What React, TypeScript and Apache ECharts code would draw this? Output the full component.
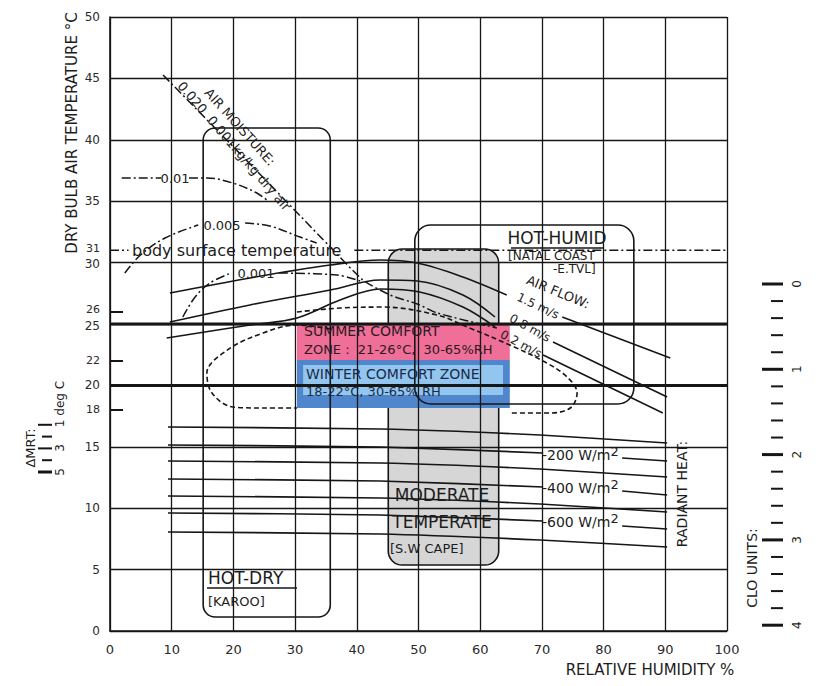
import React, { useEffect, useRef } from 'react';
import * as echarts from 'echarts';

// ---- axes ----
const extraTempLabels = [31, 26, 22, 18];
const extraTempTicks = [26, 22, 18];
const cloValues = [0, 0.2, 0.4, 0.6, 0.8, 1, 1.2, 1.4, 1.6, 1.8, 2, 2.2, 2.4, 2.6, 2.8, 3, 3.2, 3.4, 3.6, 3.8, 4];
const mrtValues = [1, 2, 3, 4, 5];

// ---- zones [rhFrom, rhTo, tFrom, tTo, radius] ----
const grayZone = [45.1, 63.0, 5.37, 31.11, 14];
const pinkZone = [30.3, 64.8, 22.07, 25.08, 0];
const blueZone = [30.3, 64.8, 18.16, 22.07, 0];
const blueInner = [31.3, 63.7, 19.22, 21.66, 0];
const hotDryZone = [15.1, 35.7, 1.14, 40.96, 12];
const hotHumidZone = [49.4, 84.9, 18.49, 33.06, 16];

// ---- air flow lines (RH %, T °C) ----
const flow15a = [[9.7, 27.52], [22.7, 28.75], [35.7, 29.8], [43.8, 30.21], [49.8, 29.97], [57.2, 28.83], [64.3, 27.36]];
const flow15b = [[73.3, 25.57], [90.8, 22.23]];
const flow08a = [[9.7, 25.16], [22.7, 26.55], [35.7, 27.77], [43.8, 28.58], [49.8, 28.5], [57.2, 27.36], [62.4, 25.57]];
const flow08b = [[71.8, 23.53], [90.3, 19.06]];
const flow02a = [[9.2, 23.86], [22.7, 24.92], [30.3, 25.49], [37.3, 26.95], [43.8, 27.85], [50.2, 27.61], [57.2, 26.38], [62.4, 24.76]];
const flow02b = [[70.2, 22.48], [89.6, 17.75]];

// ---- comfort extension (dashed) ----
const comfortLeft = [[35.7, 24.6], [30.3, 24.92], [24.8, 24.27], [19.0, 22.88], [15.7, 21.01], [16.5, 19.4], [19.9, 18.24], [25.0, 18.16], [30.3, 18.16]];
const comfortRight = [[30.3, 25.98], [37.3, 26.3], [44.2, 26.38], [53.0, 25.73], [58.3, 24.67], [64.8, 23.29], [70.5, 21.9], [74.1, 20.68], [75.7, 19.38], [74.6, 18.16], [71.3, 17.75], [64.8, 17.75]];

// ---- air moisture (dash-dot) ----
const moisture020 = [[8.6, 45.28], [22.7, 38.03], [35.7, 31.27], [41.0, 28.58], [45.4, 27.36], [49.8, 26.63], [53.0, 25.9], [62.7, 24.67]];
const moisture01a = [[1.9, 36.89], [8.3, 36.89]];
const moisture01b = [[12.8, 36.89], [15.7, 36.89], [19.9, 36.48], [23.8, 35.67], [25.4, 35.1]];
const moisture005a = [[2.4, 29.15], [4.9, 30.6], [8.9, 32.0], [14.3, 33.06]];
const moisture005b = [[21.9, 33.22], [25.9, 32.98], [30.8, 32.08], [33.5, 31.6]];
const moisture001a = [[11.8, 25.57], [13.8, 27.2], [16.2, 28.34], [19.6, 29.15]];
const moisture001b = [[27.4, 29.15], [36.8, 28.99], [41.0, 28.42]];

// ---- body surface temperature ----
const bodyTempA = [[0, 31], [3.0, 31]];
const bodyTempB = [[39.6, 31], [100, 31]];
const thick25 = [[0, 25], [100, 25]];
const thick20 = [[0, 20], [100, 20]];

// ---- radiant heat lines ----
const rad0 = [[9.4, 16.61], [43.8, 16.45], [69.7, 15.96], [90.3, 15.31]];
const rad200a = [[9.4, 15.15], [43.8, 14.98], [70.2, 14.5]];
const rad200b = [[83.0, 14.09], [90.3, 13.84]];
const radA = [[9.4, 13.84], [43.8, 13.68], [69.7, 13.19], [90.3, 12.54]];
const rad400a = [[9.4, 12.38], [43.8, 12.21], [70.2, 11.73]];
const rad400b = [[83.0, 11.4], [90.3, 11.07]];
const radB = [[9.4, 10.99], [43.8, 10.83], [69.7, 10.34], [90.3, 9.69]];
const rad600a = [[9.4, 9.61], [43.8, 9.45], [70.2, 8.96]];
const rad600b = [[83.0, 8.55], [90.3, 8.31]];
const radC = [[9.4, 8.06], [43.8, 7.9], [69.7, 7.41], [90.3, 6.84]];

const FONT = "'DejaVu Sans', 'Noto Sans', sans-serif";
const INK = '#161616';
const DASHDOT = [9, 3, 2, 3];
const DASH = [5, 3];

function line(data: number[][], opts: any = {}) {
  return {
    type: 'line',
    data,
    symbol: 'none',
    silent: true,
    z: opts.z ?? 4,
    smooth: opts.smooth ?? 0.35,
    lineStyle: { color: opts.color ?? INK, width: opts.width ?? 1.6, type: opts.type ?? 'solid' },
  };
}

function zone(z: number[], style: any, zIndex: number) {
  return {
    type: 'custom',
    silent: true,
    z: zIndex,
    encode: { x: [0, 1], y: [2, 3] },
    data: [z],
    renderItem: (_p: any, api: any) => {
      const a = api.coord([api.value(0), api.value(3)]);
      const b = api.coord([api.value(1), api.value(2)]);
      return {
        type: 'rect',
        shape: { x: a[0], y: a[1], width: b[0] - a[0], height: b[1] - a[1], r: api.value(4) },
        style,
      };
    },
  };
}

function txt(text: string, x: number, y: number, o: any = {}) {
  const size = o.size ?? 13;
  return {
    type: 'text',
    x,
    y,
    z: 20,
    rotation: o.rotation ?? 0,
    silent: true,
    style: {
      text,
      fill: o.color ?? '#1d1d1d',
      font: `${o.weight ?? 'normal'} ${size}px ${o.family ?? FONT}`,
      lineHeight: o.lineHeight ?? size,
      align: o.align ?? 'left',
      verticalAlign: 'middle',
      rich: o.rich,
    },
  };
}

function seg(x1: number, y1: number, x2: number, y2: number, w = 1.5) {
  return { type: 'line', z: 20, silent: true, shape: { x1, y1, x2, y2 }, style: { stroke: INK, lineWidth: w } };
}

const supRich = {
  n: { fontSize: 14, fontFamily: FONT, fill: '#1d1d1d', lineHeight: 14 },
  s: { fontSize: 13, fontFamily: FONT, fill: '#1d1d1d', padding: [0, 0, 8, 0], lineHeight: 13 },
};

function buildGraphics() {
  const g: any[] = [];
  g.push(txt('DRY BULB AIR TEMPERATURE °C', 72, 133, { rotation: Math.PI / 2, align: 'center', size: 15 }));
  g.push(txt('RELATIVE HUMIDITY %', 650, 670, { align: 'center', size: 15 }));
  g.push(txt('body surface temperature', 132, 250, { size: 16 }));
  g.push(txt('0.01', 175, 178, { align: 'center', size: 13 }));
  g.push(txt('0.005', 222, 225, { align: 'center', size: 13 }));
  g.push(txt('0.001', 256, 273, { align: 'center', size: 13 }));
  g.push(txt('AIR MOISTURE:', 240, 127, { align: 'center', size: 13, rotation: -0.84 }));
  g.push(txt('0.020  0.001kg/kg dry air', 234, 146, { align: 'center', size: 13, rotation: -0.86 }));
  g.push(txt('HOT-HUMID', 557, 238, { align: 'center', size: 17 }));
  g.push(seg(511, 248, 604, 248));
  g.push(txt('[NATAL COAST', 508, 256, { size: 12 }));
  g.push(txt('-E.TVL]', 553, 269, { size: 12 }));
  g.push(txt('AIR FLOW:', 558, 292, { align: 'center', size: 13, rotation: -0.39 }));
  g.push(txt('1.5 m/s', 538, 306, { align: 'center', size: 12, rotation: -0.44 }));
  g.push(txt('0.8 m/s', 530, 328, { align: 'center', size: 12, rotation: -0.5 }));
  g.push(txt('0.2 m/s', 521, 344, { align: 'center', size: 12, rotation: -0.49 }));
  g.push(txt('SUMMER COMFORT', 304, 331, { size: 14, color: '#2a1a22' }));
  g.push(txt('ZONE :  21-26°C,  30-65%RH', 304, 349, { size: 13, color: '#2a1a22' }));
  g.push(txt('WINTER COMFORT ZONE', 306, 374, { size: 14, color: '#1b2a48' }));
  g.push(txt('18-22°C, 30-65% RH', 306, 391, { size: 13, color: '#1b2a48' }));
  g.push(txt('MODERATE', 442, 495, { align: 'center', size: 17 }));
  g.push(txt('TEMPERATE', 442, 522, { align: 'center', size: 17 }));
  g.push(txt('[S.W CAPE]', 390, 548, { size: 13 }));
  g.push(txt('HOT-DRY', 208, 578, { size: 17 }));
  g.push(seg(207, 588, 297, 588));
  g.push(txt('[KAROO]', 208, 601, { size: 13 }));
  g.push(txt('{n|-200 W/m}{s|2}', 542, 455, { rich: supRich }));
  g.push(txt('{n|-400 W/m}{s|2}', 542, 488, { rich: supRich }));
  g.push(txt('{n|-600 W/m}{s|2}', 542, 522, { rich: supRich }));
  g.push(txt('RADIANT HEAT:', 682, 494, { rotation: Math.PI / 2, align: 'center', size: 14 }));
  g.push(txt('CLO UNITS:', 752, 568, { rotation: Math.PI / 2, align: 'center', size: 14 }));
  cloValues.forEach((v) => {
    const y = 284 + v * 85.3;
    const major = Math.abs(v - Math.round(v)) < 1e-6;
    g.push(seg(major ? 762 : 771, y, 783, y, major ? 3 : 2));
    if (major) g.push(txt(String(Math.round(v)), 797, y, { rotation: Math.PI / 2, align: 'center', size: 12 }));
  });
  g.push(txt('ΔMRT:', 30, 448, { rotation: Math.PI / 2, align: 'center', size: 13 }));
  mrtValues.forEach((v) => {
    const y = 413 + v * 11.8;
    g.push(seg(v % 2 === 1 ? 38 : 42, y, 52, y, v === 5 ? 3 : 2));
  });
  g.push(txt('5', 60, 472, { rotation: Math.PI / 2, align: 'center', size: 12 }));
  g.push(txt('3', 60, 448, { rotation: Math.PI / 2, align: 'center', size: 12 }));
  g.push(txt('1 deg C', 60, 404, { rotation: Math.PI / 2, align: 'center', size: 12 }));
  return g;
}

const axisLabelStyle = { color: '#2a2a2a', fontSize: 13, lineHeight: 13, fontFamily: FONT };

const option: any = {
  animation: false,
  backgroundColor: '#ffffff',
  grid: { left: 110, top: 17, right: 100, bottom: 55 },
  xAxis: {
    type: 'value', min: 0, max: 100, interval: 10, z: 2,
    axisLine: { show: true, lineStyle: { color: INK, width: 1.6 } },
    axisTick: { show: false },
    splitLine: { show: true, lineStyle: { color: INK, width: 1.3 } },
    axisLabel: { ...axisLabelStyle, margin: 12 },
  },
  yAxis: [
    {
      type: 'value', min: 0, max: 50, interval: 5, z: 2,
      axisLine: { show: true, lineStyle: { color: INK, width: 1.6 } },
      axisTick: { show: false },
      splitLine: { show: true, lineStyle: { color: INK, width: 1.3 } },
      axisLabel: {
        ...axisLabelStyle, fontSize: 12, lineHeight: 11, margin: 10,
        formatter: (v: number) => (v === 30 || v === 25 ? `{dn|${v}}` : `${v}`),
        rich: { dn: { fontSize: 12, lineHeight: 11, fontFamily: FONT, color: '#2a2a2a', padding: [3, 0, 0, 0] } },
      },
    },
    {
      type: 'value', min: 0, max: 50, position: 'left', z: 3,
      axisLine: { show: false },
      splitLine: { show: false },
      axisTick: { show: true, inside: true, length: 13, customValues: extraTempTicks, lineStyle: { color: INK, width: 2 } },
      axisLabel: {
        ...axisLabelStyle, fontSize: 11, lineHeight: 10, margin: 10, customValues: extraTempLabels,
        formatter: (v: number) => (v === 31 || v === 26 ? `{up|${v}}` : `${v}`),
        rich: { up: { fontSize: 11, lineHeight: 10, fontFamily: FONT, color: '#2a2a2a', padding: [0, 0, 4, 0] } },
      },
    },
  ],
  series: [
    zone(grayZone, { fill: '#d6d6d6', stroke: INK, lineWidth: 1.6 }, 1),
    zone(pinkZone, { fill: '#f06f98' }, 1),
    zone(blueZone, { fill: '#4f86cc' }, 1),
    zone(blueInner, { fill: '#93c6ee' }, 1),
    zone(hotDryZone, { fill: 'none', stroke: INK, lineWidth: 1.6 }, 4),
    zone(hotHumidZone, { fill: 'none', stroke: INK, lineWidth: 1.6 }, 4),
    line(thick25, { width: 3, smooth: false }),
    line(thick20, { width: 3, smooth: false }),
    line(bodyTempA, { type: DASHDOT, smooth: false, width: 1.4 }),
    line(bodyTempB, { type: DASHDOT, smooth: false, width: 1.4 }),
    line(flow15a), line(flow15b, { smooth: false }),
    line(flow08a), line(flow08b, { smooth: false }),
    line(flow02a), line(flow02b, { smooth: false }),
    line(comfortLeft, { type: DASH, width: 1.6 }),
    line(comfortRight, { type: DASH, width: 1.6 }),
    line(moisture020, { type: DASHDOT, width: 1.5, smooth: 0.2 }),
    line(moisture01a, { type: DASHDOT, width: 1.5, smooth: false }),
    line(moisture01b, { type: DASHDOT, width: 1.5 }),
    line(moisture005a, { type: DASHDOT, width: 1.5 }),
    line(moisture005b, { type: DASHDOT, width: 1.5 }),
    line(moisture001a, { type: DASHDOT, width: 1.5 }),
    line(moisture001b, { type: DASHDOT, width: 1.5 }),
    line(rad0, { smooth: 0.2 }),
    line(rad200a, { smooth: 0.2 }), line(rad200b, { smooth: false }),
    line(radA, { smooth: 0.2 }),
    line(rad400a, { smooth: 0.2 }), line(rad400b, { smooth: false }),
    line(radB, { smooth: 0.2 }),
    line(rad600a, { smooth: 0.2 }), line(rad600b, { smooth: false }),
    line(radC, { smooth: 0.2 }),
  ],
  graphic: buildGraphics(),
};

export default function App() {
  const ref = useRef<HTMLDivElement>(null);
  useEffect(() => {
    const chart = echarts.init(ref.current!, null, { renderer: 'svg' });
    chart.setOption(option);
    return () => chart.dispose();
  }, []);
  return <div ref={ref} style={{ position: 'fixed', left: 0, top: 0, width: 827, height: 686, background: '#fff' }} />;
}
